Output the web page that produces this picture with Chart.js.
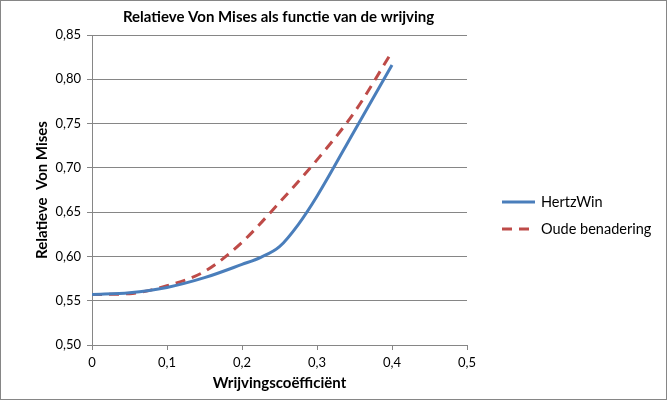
<!DOCTYPE html>
<html>
<head>
<meta charset="utf-8">
<title>Relatieve Von Mises</title>
<script src="https://cdn.jsdelivr.net/npm/chart.js@4.4.0/dist/chart.umd.min.js"></script>
<style>
  html, body { margin: 0; padding: 0; background: #fff; }
</style>
</head>
<body>
<canvas id="line-chart" width="667" height="400"></canvas>
<script>
// waarden
const hertzX = [0, 0.05, 0.1, 0.15, 0.2, 0.225, 0.25, 0.275, 0.3, 0.35, 0.4];
const hertzWin = [0.557, 0.559, 0.565, 0.576, 0.591, 0.599, 0.611, 0.636, 0.668, 0.742, 0.816];

const oudeX = [0, 0.05, 0.1, 0.15, 0.2, 0.25, 0.3, 0.35, 0.4];
const oudeBenadering = [0.557, 0.558, 0.567, 0.583, 0.616, 0.661, 0.709, 0.763, 0.831];

const xTicks = [0, 0.1, 0.2, 0.3, 0.4, 0.5];
const yTicks = [0.50, 0.55, 0.60, 0.65, 0.70, 0.75, 0.80, 0.85];

const gray = '#868686';
Chart.defaults.font.family = 'Lato';
Chart.defaults.color = '#000';

// legenda rechts, zoals in Excel
const sideLegend = {
    id: 'sideLegend',
    afterDraw(chart) {
        const ctx = chart.ctx;
        ctx.save();
        chart.data.datasets.forEach((ds, i) => {
            const y = 202 + i * 27;
            ctx.strokeStyle = ds.borderColor;
            ctx.lineWidth = ds.borderWidth;
            ctx.setLineDash(ds.borderDash || []);
            ctx.beginPath();
            ctx.moveTo(502, y);
            ctx.lineTo(535, y);
            ctx.stroke();
            ctx.setLineDash([]);
            ctx.fillStyle = '#000';
            ctx.font = '14.5px Lato';
            ctx.textBaseline = 'middle';
            ctx.fillText(ds.label, 541, y);
        });
        // rand om de hele grafiek
        ctx.strokeStyle = gray;
        ctx.lineWidth = 1;
        ctx.strokeRect(0.5, 0.5, chart.width - 1, chart.height - 1);
        ctx.restore();
    }
};

new Chart(document.getElementById("line-chart"), {
    type: 'line',
    data: {
        datasets: [
            {
                label: "HertzWin",
                data: hertzX.map((x, i) => ({ x: x, y: hertzWin[i] })),
                borderColor: '#4A7EBB',
                borderWidth: 3,
                pointRadius: 0,
                cubicInterpolationMode: 'monotone',
                fill: false
            },
            {
                label: "Oude benadering",
                data: oudeX.map((x, i) => ({ x: x, y: oudeBenadering[i] })),
                borderColor: '#BE4B48',
                borderWidth: 3,
                borderDash: [10, 7],
                pointRadius: 0,
                cubicInterpolationMode: 'monotone',
                fill: false
            }
        ]
    },
    options: {
        responsive: false,
        animation: false,
        // titel gecentreerd boven het plotgebied: 110 rechts + lege as van 90
        layout: { padding: { left: 0, right: 110, top: 0, bottom: 0 } },
        plugins: {
            legend: { display: false },
            tooltip: { enabled: false },
            title: {
                display: true,
                text: 'Relatieve Von Mises als functie van de wrijving',
                color: '#000',
                font: { size: 15, weight: 'bold' },
                padding: { top: 8, bottom: 9 }
            }
        },
        scales: {
            x: {
                type: 'linear',
                min: 0,
                max: 0.5,
                afterBuildTicks: s => { s.ticks = xTicks.map(v => ({ value: v })); },
                afterFit: s => { s.height = 55; },
                ticks: {
                    padding: 5,
                    maxRotation: 0,
                    font: { size: 13 },
                    callback: v => v === 0 ? '0' : v.toFixed(1).replace('.', ',')
                },
                grid: { drawOnChartArea: false, tickLength: 5, color: gray },
                border: { color: gray },
                title: {
                    display: true,
                    text: 'Wrijvingscoëfficiënt',
                    font: { size: 15, weight: 'bold' },
                    padding: { top: 0, bottom: 8 }
                }
            },
            y: {
                min: 0.5,
                max: 0.85,
                afterBuildTicks: s => { s.ticks = yTicks.map(v => ({ value: v })); },
                afterFit: s => { s.width = 92; },
                ticks: {
                    padding: 6,
                    font: { size: 13 },
                    callback: v => v.toFixed(2).replace('.', ',')
                },
                grid: { tickLength: 5, color: gray },
                border: { color: gray },
                title: {
                    display: true,
                    text: 'Relatieve  Von Mises',
                    font: { size: 15, weight: 'bold' },
                    padding: { top: 33, bottom: 0 }
                }
            },
            ruimte: {
                type: 'linear',
                position: 'right',
                grid: { display: false },
                ticks: { display: false },
                border: { display: false },
                afterFit: s => { s.width = 90; }
            }
        }
    },
    plugins: [sideLegend]
});
</script>
</body>
</html>
